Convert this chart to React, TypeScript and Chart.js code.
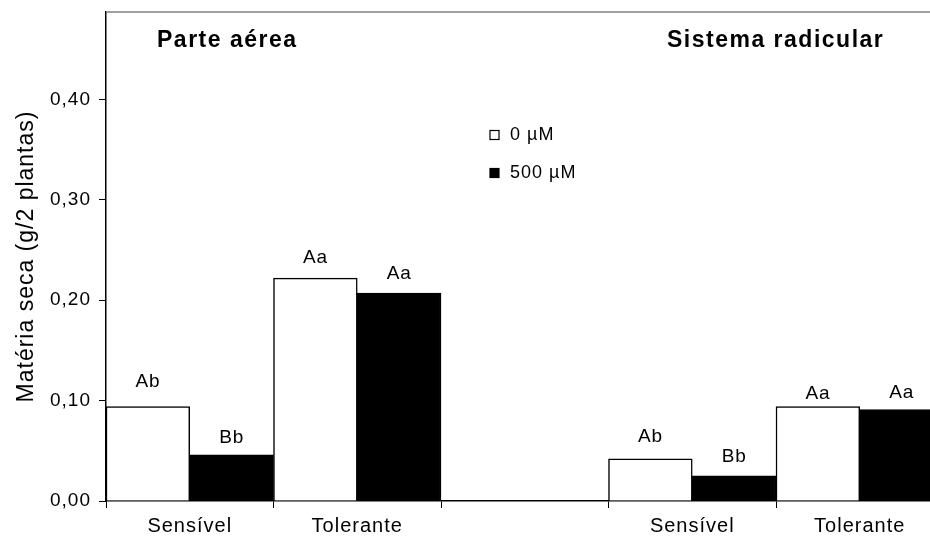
import { useEffect, useRef } from "react";
import { Chart, registerables } from "chart.js";

Chart.register(...registerables);

// Dry matter (g / 2 plants) for shoot and root, two genotypes, two Al doses
const panelTitles = ["Parte aérea", "Sistema radicular"];
const genotypes = ["Sensível", "Tolerante"];
const seriesNames = ["0 µM", "500 µM"];

const shootControl = [0.094, 0.222];
const shootAl = [0.046, 0.207];
const rootControl = [0.042, 0.094];
const rootAl = [0.025, 0.091];

const shootControlLetters = ["Ab", "Aa"];
const shootAlLetters = ["Bb", "Aa"];
const rootControlLetters = ["Ab", "Aa"];
const rootAlLetters = ["Bb", "Aa"];

const yTickValues = [0, 0.1, 0.2, 0.3, 0.4];
const yMax = 0.487;
const yTitle = "Matéria seca (g/2 plantas)";

// categories: shoot block, an empty spacer, root block
const categories = [...genotypes, "", ...genotypes];
const controlValues = [...shootControl, null, ...rootControl];
const alValues = [...shootAl, null, ...rootAl];
const controlLetters = [...shootControlLetters, "", ...rootControlLetters];
const alLetters = [...shootAlLetters, "", ...rootAlLetters];

// vertical lift (px) of each significance letter above its bar
const controlLift = [25, 20, 0, 22, 13];
const alLift = [17, 19, 0, 19, 17];

const FONT = "'Liberation Sans', Arial, Helvetica, sans-serif";

const overlay = {
  id: "overlay",
  beforeDraw(chart: any) {
    chart.ctx.letterSpacing = "1px";
  },
  afterDraw(chart: any) {
    const { ctx, chartArea } = chart;
    ctx.save();

    // top frame line
    ctx.strokeStyle = "#808080";
    ctx.lineWidth = 1.5;
    ctx.beginPath();
    ctx.moveTo(chartArea.left, chartArea.top);
    ctx.lineTo(chartArea.right, chartArea.top);
    ctx.stroke();

    // panel titles
    ctx.fillStyle = "#000";
    ctx.textBaseline = "alphabetic";
    ctx.textAlign = "left";
    ctx.font = `bold 23px ${FONT}`;
    ctx.letterSpacing = "1.5px";
    ctx.fillText(panelTitles[0], 157, 47);
    ctx.fillText(panelTitles[1], 667, 47);

    // significance letters over the bars
    ctx.font = `19px ${FONT}`;
    ctx.letterSpacing = "0.8px";
    ctx.textAlign = "center";
    ctx.textBaseline = "middle";
    const sets = [
      { letters: controlLetters, lift: controlLift },
      { letters: alLetters, lift: alLift },
    ];
    sets.forEach((s, di) => {
      const meta = chart.getDatasetMeta(di);
      meta.data.forEach((bar: any, i: number) => {
        if (!s.letters[i]) return;
        ctx.fillText(s.letters[i], bar.x, bar.y - s.lift[i]);
      });
    });

    // legend
    ctx.font = `18px ${FONT}`;
    ctx.letterSpacing = "1px";
    ctx.textAlign = "left";
    const rows = [135, 173];
    const fills = ["#ffffff", "#000000"];
    rows.forEach((yy, i) => {
      ctx.fillStyle = fills[i];
      ctx.fillRect(490, yy - 4.5, 9, 9);
      ctx.strokeStyle = "#000";
      ctx.lineWidth = 1.2;
      ctx.strokeRect(490, yy - 4.5, 9, 9);
      ctx.fillStyle = "#000";
      ctx.fillText(seriesNames[i], 510, yy);
    });

    ctx.restore();
  },
};

export default function App() {
  const canvasRef = useRef<HTMLCanvasElement | null>(null);

  useEffect(() => {
    const canvas = canvasRef.current;
    if (!canvas) return;
    const chart = new Chart(canvas, {
      type: "bar",
      data: {
        labels: categories,
        datasets: [
          {
            label: seriesNames[0],
            data: controlValues,
            backgroundColor: "#ffffff",
            borderColor: "#000000",
            borderWidth: 1.5,
            barPercentage: 1,
            categoryPercentage: 1,
          },
          {
            label: seriesNames[1],
            data: alValues,
            backgroundColor: "#000000",
            borderColor: "#000000",
            borderWidth: 1.5,
            barPercentage: 1,
            categoryPercentage: 1,
          },
        ],
      },
      options: {
        responsive: false,
        animation: false,
        devicePixelRatio: 1,
        layout: { padding: { top: 12, right: 16.5, left: 0, bottom: 0 } },
        plugins: {
          legend: { display: false },
          tooltip: { enabled: false },
        },
        scales: {
          x: {
            offset: true,
            grid: {
              offset: true,
              drawOnChartArea: false,
              drawTicks: true,
              tickLength: 7,
              color: "#000",
              lineWidth: 1,
            },
            border: { color: "#000", width: 1.5 },
            ticks: {
              color: "#000",
              font: { family: FONT, size: 20 },
              padding: 6,
              maxRotation: 0,
              autoSkip: false,
            },
            afterFit(scale: any) {
              scale.height = 44;
              scale.paddingLeft = 0;
              scale.paddingRight = 0;
            },
          },
          y: {
            min: 0,
            max: yMax,
            afterBuildTicks(scale: any) {
              scale.ticks = yTickValues.map((v) => ({ value: v }));
            },
            grid: {
              drawOnChartArea: false,
              drawTicks: true,
              tickLength: 7,
              color: "#000",
              lineWidth: 1,
            },
            border: { color: "#000", width: 1.5 },
            ticks: {
              color: "#000",
              font: { family: FONT, size: 19 },
              padding: 8,
              callback: (v: any) => Number(v).toFixed(2).replace(".", ","),
            },
            title: {
              display: true,
              text: yTitle,
              color: "#000",
              font: { family: FONT, size: 23 },
              padding: { top: 13, bottom: 0 },
            },
            afterFit(scale: any) {
              scale.width = 106;
              scale.paddingTop = 0;
              scale.paddingBottom = 0;
            },
          },
        },
      },
      plugins: [overlay],
    });
    return () => chart.destroy();
  }, []);

  return (
    <div
      style={{
        position: "fixed",
        left: 0,
        top: 0,
        width: 930,
        height: 545,
        overflow: "hidden",
        background: "#fff",
      }}
    >
      <canvas ref={canvasRef} width={960} height={545} style={{ display: "block" }} />
    </div>
  );
}
